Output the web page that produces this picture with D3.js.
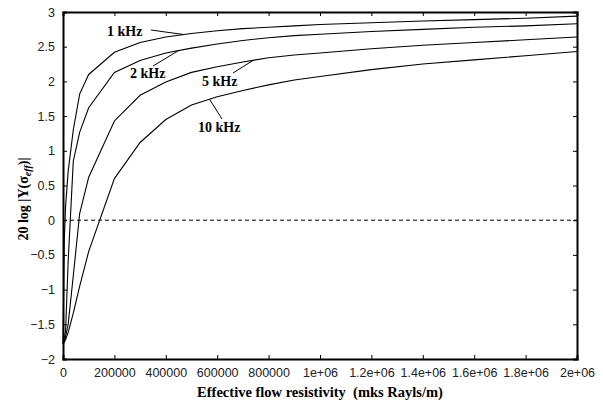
<!DOCTYPE html>
<html>
<head>
<meta charset="utf-8">
<script src="https://cdn.jsdelivr.net/npm/d3@7"></script>
<style>
  body { margin: 0; background: #fff; }
  svg { display: block; }
</style>
</head>
<body>
<svg id="chart" width="603" height="408"></svg>
<script>
// flow resistivity samples (mks Rayls/m)
const sigma = [0, 5000, 10000, 20000, 40000, 65000, 100000, 200000, 300000, 400000,
  500000, 600000, 700000, 800000, 900000, 1000000, 1200000, 1400000, 1600000, 1800000, 2000000];

const f1k  = [-1.78, -0.3, 0.2, 0.7, 1.3, 1.82, 2.1, 2.42, 2.56, 2.64,
  2.69, 2.73, 2.76, 2.78, 2.8, 2.82, 2.845, 2.87, 2.89, 2.91, 2.94];
const f2k  = [-1.78, -1.7, -1.6, -0.6, 0.85, 1.27, 1.62, 2.13, 2.3, 2.41,
  2.48, 2.54, 2.59, 2.63, 2.66, 2.68, 2.72, 2.75, 2.78, 2.8, 2.83];
const f5k  = [-1.78, -1.74, -1.68, -1.5, -0.8, 0.1, 0.62, 1.43, 1.8, 1.99,
  2.13, 2.21, 2.28, 2.34, 2.38, 2.41, 2.47, 2.52, 2.56, 2.6, 2.64];
const f10k = [-1.78, -1.76, -1.72, -1.62, -1.34, -0.95, -0.45, 0.6, 1.12, 1.45,
  1.66, 1.78, 1.87, 1.95, 2.02, 2.07, 2.17, 2.25, 2.31, 2.37, 2.43];

const seriesNames = ["1 kHz", "2 kHz", "5 kHz", "10 kHz"];
const seriesVals  = [f1k, f2k, f5k, f10k];

const xTicks = [0, 200000, 400000, 600000, 800000, 1000000, 1200000, 1400000, 1600000, 1800000, 2000000];
const xTickLabels = ["0", "200000", "400000", "600000", "800000", "1e+06", "1.2e+06", "1.4e+06", "1.6e+06", "1.8e+06", "2e+06"];
const yTicks = [-2, -1.5, -1, -0.5, 0, 0.5, 1, 1.5, 2, 2.5, 3];

// label placement: text anchor point and the curve point the leader goes to
const labels = [
  { name: "1 kHz",  tx: 107, ty: 36,  lx0: 151, ly0: 30,  at: 470000,  s: 0 },
  { name: "2 kHz",  tx: 130, ty: 78,  lx0: 153, ly0: 66,  at: 450000,  s: 1 },
  { name: "5 kHz",  tx: 202, ty: 86,  lx0: 233, ly0: 73,  at: 740000,  s: 2 },
  { name: "10 kHz", tx: 198, ty: 132, lx0: 222, ly0: 119, at: 570000,  s: 3 }
];

const width = 603, height = 408;
const margin = { top: 12, right: 26, bottom: 49, left: 63 };
const innerWidth  = width  - margin.left - margin.right;
const innerHeight = height - margin.top  - margin.bottom;

const svg = d3.select("#chart");
const g = svg.append("g")
  .attr("transform", `translate(${margin.left},${margin.top})`);

const x = d3.scaleLinear().domain([0, 2000000]).range([0, innerWidth]);
const y = d3.scaleLinear().domain([-2, 3]).range([innerHeight, 0]);

// zero line
g.append("line")
  .attr("x1", 0).attr("x2", innerWidth)
  .attr("y1", y(0)).attr("y2", y(0))
  .attr("stroke", "#000").attr("stroke-width", 1)
  .attr("stroke-dasharray", "4,3");

// curves
const line = d3.line()
  .x((d, i) => x(sigma[i]))
  .y(d => y(d));

g.selectAll("path.curve")
  .data(seriesVals)
  .join("path")
  .attr("class", "curve")
  .attr("d", line)
  .attr("fill", "none")
  .attr("stroke", "#000")
  .attr("stroke-width", 1.1);

// axes with inward ticks
const tickFont = "Liberation Sans, Arial, sans-serif";
const xAxis = g.append("g")
  .attr("transform", `translate(0,${innerHeight})`)
  .call(d3.axisBottom(x).tickValues(xTicks).tickSize(-4)
    .tickFormat((d, i) => xTickLabels[i]));
xAxis.selectAll(".tick text").attr("y", 18).attr("dy", null);
const xTop = g.append("g")
  .call(d3.axisTop(x).tickValues(xTicks).tickSize(-4).tickFormat(""));
const yAxis = g.append("g")
  .call(d3.axisLeft(y).tickValues(yTicks).tickSize(-4).tickPadding(8)
    .tickFormat(d3.format("")));
const yRight = g.append("g")
  .attr("transform", `translate(${innerWidth},0)`)
  .call(d3.axisRight(y).tickValues(yTicks).tickSize(-4).tickFormat(""));

[xAxis, xTop, yAxis, yRight].forEach(a => {
  a.select(".domain").attr("stroke", "#000").attr("stroke-width", 2);
  a.selectAll(".tick line").attr("stroke", "#000").attr("stroke-width", 1);
  a.selectAll("text")
    .attr("font-family", tickFont)
    .attr("font-size", "12.5px")
    .attr("fill", "#222");
});

// curve labels with leader lines
const serif = "Liberation Serif, Times New Roman, serif";
labels.forEach(l => {
  const vals = seriesVals[l.s];
  const cx = x(l.at);
  const cy = y(d3.scaleLinear().domain(sigma).range(vals)(l.at));
  g.append("line")
    .attr("x1", l.lx0 - margin.left).attr("y1", l.ly0 - margin.top)
    .attr("x2", cx).attr("y2", cy)
    .attr("stroke", "#000").attr("stroke-width", 1);
  g.append("text")
    .attr("x", l.tx - margin.left).attr("y", l.ty - margin.top)
    .attr("font-family", serif)
    .attr("font-weight", "bold")
    .attr("font-size", "14px")
    .text(l.name);
});

// axis titles
svg.append("text")
  .attr("x", margin.left + innerWidth / 2)
  .attr("y", 397)
  .attr("text-anchor", "middle")
  .attr("font-family", serif)
  .attr("font-weight", "bold")
  .attr("font-size", "14.5px")
  .attr("xml:space", "preserve")
  .text("Effective flow resistivity  (mks Rayls/m)");

const yt = svg.append("text")
  .attr("transform", "translate(28,199) rotate(-90)")
  .attr("text-anchor", "middle")
  .attr("font-family", serif)
  .attr("font-weight", "bold")
  .attr("font-size", "14px");
yt.append("tspan").text("20 log |Y(σ");
yt.append("tspan").attr("font-size", "10px").attr("font-style", "italic")
  .attr("dy", 3).text("eff");
yt.append("tspan").attr("dy", -3).text(")|");
</script>
</body>
</html>
